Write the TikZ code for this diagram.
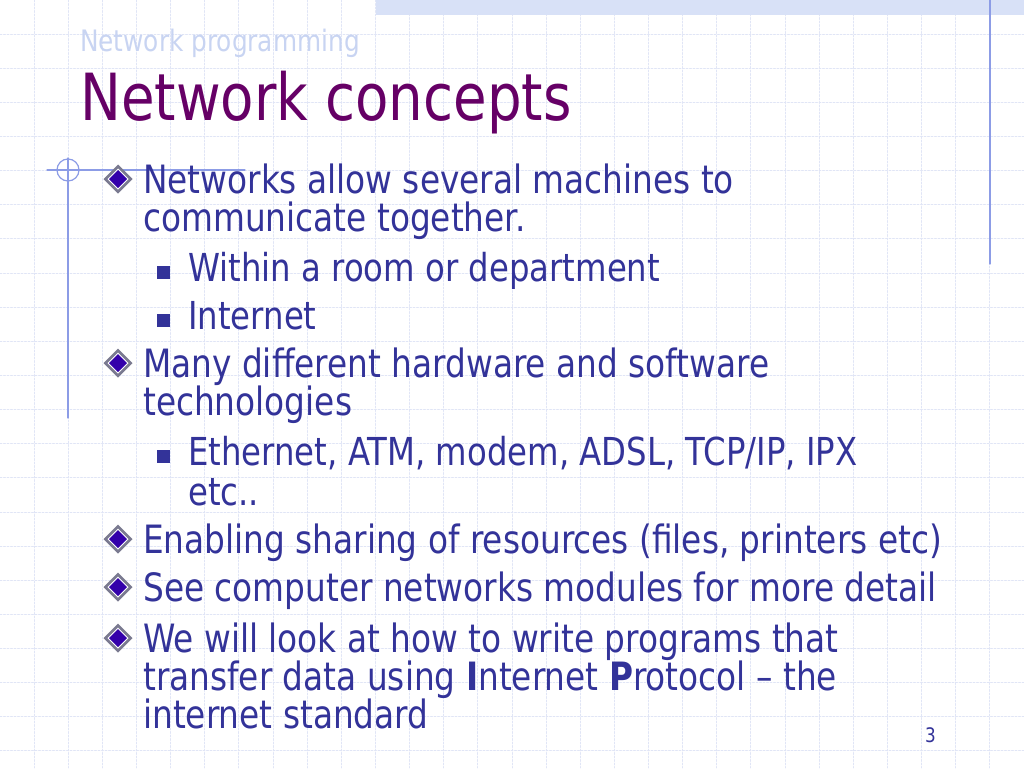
\documentclass[tikz,border=0pt]{standalone}
\usepackage{fontspec}
\setmainfont{DejaVu Sans}[FakeStretch=0.84]

\begin{document}
\begin{tikzpicture}
  [x=1pt,y=-1pt,line cap=round,
  % Styles
  grid line/.style={gridcolor,line width=0.9pt,dash pattern=on 2pt off 1.5pt},
  frame line/.style={framecolor,line width=1.2pt},
  header text/.style={anchor=base west,inner sep=0pt,text=headercolor,font=\fontsize{29.5}{34}\selectfont},
  title text/.style={anchor=base west,inner sep=0pt,text=titlecolor,font=\fontsize{65}{72}\selectfont},
  level one/.style={anchor=base west,inner sep=0pt,text=textblue,font=\fontsize{39}{46}\selectfont},
  level two/.style={level one,font=\fontsize{38.5}{46}\selectfont}]
  % Colors
  \definecolor{textblue}{HTML}{333399}
  \definecolor{titlecolor}{HTML}{660066}
  \definecolor{headercolor}{HTML}{C8D4F2}
  \definecolor{gridcolor}{HTML}{E0E5F6}
  \definecolor{framecolor}{HTML}{8C9CE6}
  \definecolor{bandcolor}{HTML}{D8E1F7}
  \definecolor{bulletgrey}{HTML}{7A7A90}
  \definecolor{bulletblue}{HTML}{3300AA}
  % The graphic
  \useasboundingbox (0,0) rectangle (1024,768);
  \fill[white] (0,0) rectangle (1024,768);
  \foreach \k in {1,...,29}
    \draw[grid line] (\k*34.13,0) -- (\k*34.13,768);
  \foreach \k in {1,...,22}
    \draw[grid line] (0,\k*34.13) -- (1024,\k*34.13);
  \fill[bandcolor] (376,0) rectangle (1024,15);
  \draw[frame line] (990,0) -- (990,264);
  % Crosshair on the left
  \draw[frame line] (47,170) -- (245,170);
  \draw[frame line] (68,158) -- (68,418);
  \draw[frame line] (68,170) circle (11pt);
  % Headings
  \node[header text] (header) at (80,52) {Network programming};
  \node[title text] (title) at (80,120) {Network concepts};
  % Bullets
  \foreach \y in {193,377,553,601,652} {
    \fill[bulletgrey] (118,\y-14) +(-14.5,0) -- +(0,14.5) -- +(14.5,0) -- +(0,-14.5) -- cycle;
    \fill[white] (118,\y-14) +(-10.5,0) -- +(0,10.5) -- +(10.5,0) -- +(0,-10.5) -- cycle;
    \fill[bulletblue] (118,\y-14) +(-9,0) -- +(0,9) -- +(9,0) -- +(0,-9) -- cycle;
  }
  \foreach \y in {281,329,465}
    \fill[textblue] (157,\y-15) rectangle (170,\y-2);
  % Text
  \node[level one] (networks) at (143,193) {Networks allow several machines to};
  \node[level one] (networks2) at (143,231) {communicate together.};
  \node[level two] (room) at (188,281) {Within a room or department};
  \node[level two] (internet) at (188,329) {Internet};
  \node[level one] (hardware) at (143,377) {Many different hardware and software};
  \node[level one] (hardware2) at (143,415) {technologies};
  \node[level two] (ethernet) at (188,465) {Ethernet, ATM, modem, ADSL, TCP/IP, IPX};
  \node[level two] (ethernet2) at (188,505) {etc..};
  \node[level one] (sharing) at (143,553) {Enabling sharing of resources (files, printers etc)};
  \node[level one] (modules) at (143,601) {See computer networks modules for more detail};
  \node[level one] (programs) at (143,652) {We will look at how to write programs that};
  \node[level one] (programs2) at (143,690) {transfer data using \textbf{I}nternet \textbf{P}rotocol -- the};
  \node[level one] (programs3) at (143,728) {internet standard};
  \node[anchor=base west,inner sep=0pt,text=textblue,font=\fontsize{20}{24}\selectfont] (page) at (925,742) {3};
\end{tikzpicture}
\end{document}
